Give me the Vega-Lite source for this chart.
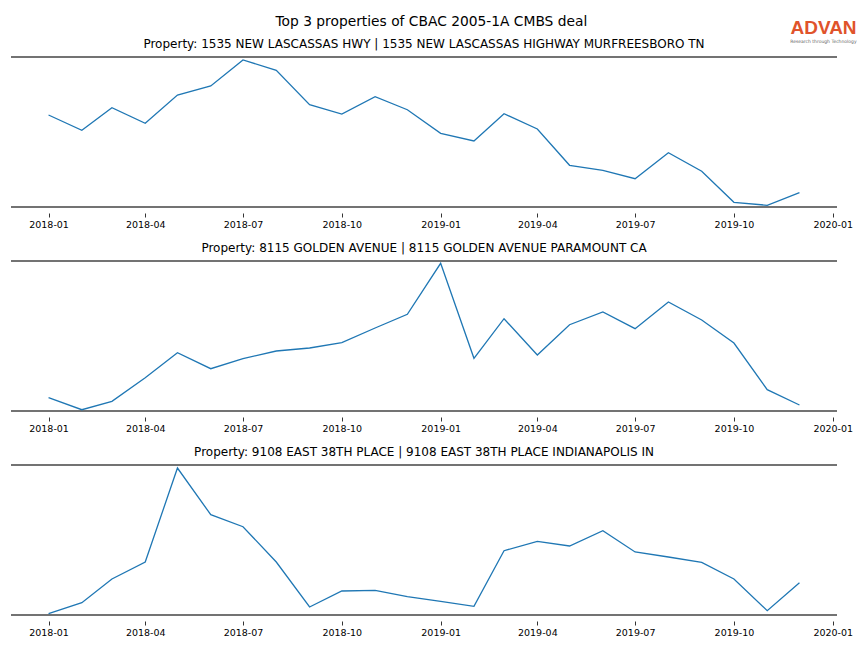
{
  "$schema": "https://vega.github.io/schema/vega-lite/v6.json",
  "padding": {"left": 10, "top": 15, "right": 4, "bottom": 4},
  "background": "white",
  "title": {"text": "ADVAN", "subtitle": "Research through Technology", "anchor": "end", "frame": "bounds", "dx": 4, "font": "Liberation Sans", "fontSize": 19, "fontWeight": "bold", "color": "#e0532b", "subtitleFont": "DejaVu Sans", "subtitleFontSize": 4.5, "subtitleColor": "#666666", "subtitlePadding": 1, "offset": -28},
  "data": {"values": [
    {"property": "P1", "date": "2018-01-01", "value": 92},
    {"property": "P1", "date": "2018-02-01", "value": 76.7},
    {"property": "P1", "date": "2018-03-01", "value": 99.3},
    {"property": "P1", "date": "2018-04-01", "value": 83.7},
    {"property": "P1", "date": "2018-05-01", "value": 112},
    {"property": "P1", "date": "2018-06-01", "value": 121},
    {"property": "P1", "date": "2018-07-01", "value": 147},
    {"property": "P1", "date": "2018-08-01", "value": 136.7},
    {"property": "P1", "date": "2018-09-01", "value": 102.3},
    {"property": "P1", "date": "2018-10-01", "value": 93},
    {"property": "P1", "date": "2018-11-01", "value": 110.3},
    {"property": "P1", "date": "2018-12-01", "value": 97.3},
    {"property": "P1", "date": "2019-01-01", "value": 73.7},
    {"property": "P1", "date": "2019-02-01", "value": 66},
    {"property": "P1", "date": "2019-03-01", "value": 93.3},
    {"property": "P1", "date": "2019-04-01", "value": 78},
    {"property": "P1", "date": "2019-05-01", "value": 41.7},
    {"property": "P1", "date": "2019-06-01", "value": 36.7},
    {"property": "P1", "date": "2019-07-01", "value": 28.3},
    {"property": "P1", "date": "2019-08-01", "value": 54.3},
    {"property": "P1", "date": "2019-09-01", "value": 35.7},
    {"property": "P1", "date": "2019-10-01", "value": 4.7},
    {"property": "P1", "date": "2019-11-01", "value": 1.7},
    {"property": "P1", "date": "2019-12-01", "value": 14.3},
    {"property": "P2", "date": "2018-01-01", "value": 13.3},
    {"property": "P2", "date": "2018-02-01", "value": 1.3},
    {"property": "P2", "date": "2018-03-01", "value": 9.7},
    {"property": "P2", "date": "2018-04-01", "value": 33.3},
    {"property": "P2", "date": "2018-05-01", "value": 58.3},
    {"property": "P2", "date": "2018-06-01", "value": 42.3},
    {"property": "P2", "date": "2018-07-01", "value": 52.3},
    {"property": "P2", "date": "2018-08-01", "value": 60},
    {"property": "P2", "date": "2018-09-01", "value": 63},
    {"property": "P2", "date": "2018-10-01", "value": 68.3},
    {"property": "P2", "date": "2018-11-01", "value": 83},
    {"property": "P2", "date": "2018-12-01", "value": 96.7},
    {"property": "P2", "date": "2019-01-01", "value": 147.7},
    {"property": "P2", "date": "2019-02-01", "value": 52.7},
    {"property": "P2", "date": "2019-03-01", "value": 92.3},
    {"property": "P2", "date": "2019-04-01", "value": 56},
    {"property": "P2", "date": "2019-05-01", "value": 86.3},
    {"property": "P2", "date": "2019-06-01", "value": 99},
    {"property": "P2", "date": "2019-07-01", "value": 82.3},
    {"property": "P2", "date": "2019-08-01", "value": 109},
    {"property": "P2", "date": "2019-09-01", "value": 91},
    {"property": "P2", "date": "2019-10-01", "value": 68},
    {"property": "P2", "date": "2019-11-01", "value": 21.3},
    {"property": "P2", "date": "2019-12-01", "value": 6},
    {"property": "P3", "date": "2018-01-01", "value": 1.3},
    {"property": "P3", "date": "2018-02-01", "value": 12.3},
    {"property": "P3", "date": "2018-03-01", "value": 36},
    {"property": "P3", "date": "2018-04-01", "value": 53},
    {"property": "P3", "date": "2018-05-01", "value": 147},
    {"property": "P3", "date": "2018-06-01", "value": 100.3},
    {"property": "P3", "date": "2018-07-01", "value": 88.3},
    {"property": "P3", "date": "2018-08-01", "value": 53},
    {"property": "P3", "date": "2018-09-01", "value": 8},
    {"property": "P3", "date": "2018-10-01", "value": 24},
    {"property": "P3", "date": "2018-11-01", "value": 24.7},
    {"property": "P3", "date": "2018-12-01", "value": 18.3},
    {"property": "P3", "date": "2019-01-01", "value": 13.6},
    {"property": "P3", "date": "2019-02-01", "value": 8.7},
    {"property": "P3", "date": "2019-03-01", "value": 64.3},
    {"property": "P3", "date": "2019-04-01", "value": 73.7},
    {"property": "P3", "date": "2019-05-01", "value": 69},
    {"property": "P3", "date": "2019-06-01", "value": 84.3},
    {"property": "P3", "date": "2019-07-01", "value": 63},
    {"property": "P3", "date": "2019-08-01", "value": 58},
    {"property": "P3", "date": "2019-09-01", "value": 52.7},
    {"property": "P3", "date": "2019-10-01", "value": 36},
    {"property": "P3", "date": "2019-11-01", "value": 4.3},
    {"property": "P3", "date": "2019-12-01", "value": 32.3}
  ]},
  "vconcat": [
    {
      "title": {"text": "Top 3 properties of CBAC 2005-1A CMBS deal", "fontSize": 13.8, "anchor": "middle", "frame": "bounds", "offset": 9},
      "spacing": 13,
      "vconcat": [
        {
          "width": 826, "height": 150,
          "title": {"text": "Property: 1535 NEW LASCASSAS HWY | 1535 NEW LASCASSAS HIGHWAY MURFREESBORO TN"},
          "transform": [{"filter": "datum.property === 'P1'"}],
          "layer": [
            {"data": {"values": [{"v": 150}, {"v": 0}]}, "mark": {"type": "rule", "color": "#444444", "strokeWidth": 1.6}, "encoding": {"y": {"field": "v", "type": "quantitative", "scale": {"domain": [0, 150], "nice": false, "zero": false}, "axis": null}}},
            {"mark": {"type": "line", "color": "#1f77b4", "strokeWidth": 1.3},
             "encoding": {
              "x": {"field": "date", "type": "temporal", "scale": {"type": "utc", "domain": [{"year": 2017, "month": 11, "date": 27, "hours": 1, "minutes": 12, "utc": true}, {"year": 2020, "month": 1, "date": 4, "hours": 22, "minutes": 48, "utc": true}]},
                "axis": {"title": null, "format": "%Y-%m", "domain": false, "offset": 6, "tickSize": 4, "tickColor": "black", "tickWidth": 0.8, "labelFontSize": 9.5, "labelFont": "DejaVu Sans", "labelColor": "black", "labelPadding": 2, "grid": false, "labelFlush": false,
                  "values": [{"year": 2018, "month": 1, "date": 1, "utc": true}, {"year": 2018, "month": 4, "date": 1, "utc": true}, {"year": 2018, "month": 7, "date": 1, "utc": true}, {"year": 2018, "month": 10, "date": 1, "utc": true}, {"year": 2019, "month": 1, "date": 1, "utc": true}, {"year": 2019, "month": 4, "date": 1, "utc": true}, {"year": 2019, "month": 7, "date": 1, "utc": true}, {"year": 2019, "month": 10, "date": 1, "utc": true}, {"year": 2020, "month": 1, "date": 1, "utc": true}]}},
              "y": {"field": "value", "type": "quantitative", "scale": {"domain": [0, 150], "nice": false, "zero": false}, "axis": null}
             }}
          ]
        },
        {
          "width": 826, "height": 150,
          "title": {"text": "Property: 8115 GOLDEN AVENUE | 8115 GOLDEN AVENUE PARAMOUNT CA"},
          "transform": [{"filter": "datum.property === 'P2'"}],
          "layer": [
            {"data": {"values": [{"v": 150}, {"v": 0}]}, "mark": {"type": "rule", "color": "#444444", "strokeWidth": 1.6}, "encoding": {"y": {"field": "v", "type": "quantitative", "scale": {"domain": [0, 150], "nice": false, "zero": false}, "axis": null}}},
            {"mark": {"type": "line", "color": "#1f77b4", "strokeWidth": 1.3},
             "encoding": {
              "x": {"field": "date", "type": "temporal", "scale": {"type": "utc", "domain": [{"year": 2017, "month": 11, "date": 27, "hours": 1, "minutes": 12, "utc": true}, {"year": 2020, "month": 1, "date": 4, "hours": 22, "minutes": 48, "utc": true}]},
                "axis": {"title": null, "format": "%Y-%m", "domain": false, "offset": 6, "tickSize": 4, "tickColor": "black", "tickWidth": 0.8, "labelFontSize": 9.5, "labelFont": "DejaVu Sans", "labelColor": "black", "labelPadding": 2, "grid": false, "labelFlush": false,
                  "values": [{"year": 2018, "month": 1, "date": 1, "utc": true}, {"year": 2018, "month": 4, "date": 1, "utc": true}, {"year": 2018, "month": 7, "date": 1, "utc": true}, {"year": 2018, "month": 10, "date": 1, "utc": true}, {"year": 2019, "month": 1, "date": 1, "utc": true}, {"year": 2019, "month": 4, "date": 1, "utc": true}, {"year": 2019, "month": 7, "date": 1, "utc": true}, {"year": 2019, "month": 10, "date": 1, "utc": true}, {"year": 2020, "month": 1, "date": 1, "utc": true}]}},
              "y": {"field": "value", "type": "quantitative", "scale": {"domain": [0, 150], "nice": false, "zero": false}, "axis": null}
             }}
          ]
        },
        {
          "width": 826, "height": 150,
          "title": {"text": "Property: 9108 EAST 38TH PLACE | 9108 EAST 38TH PLACE INDIANAPOLIS IN"},
          "transform": [{"filter": "datum.property === 'P3'"}],
          "layer": [
            {"data": {"values": [{"v": 150}, {"v": 0}]}, "mark": {"type": "rule", "color": "#444444", "strokeWidth": 1.6}, "encoding": {"y": {"field": "v", "type": "quantitative", "scale": {"domain": [0, 150], "nice": false, "zero": false}, "axis": null}}},
            {"mark": {"type": "line", "color": "#1f77b4", "strokeWidth": 1.3},
             "encoding": {
              "x": {"field": "date", "type": "temporal", "scale": {"type": "utc", "domain": [{"year": 2017, "month": 11, "date": 27, "hours": 1, "minutes": 12, "utc": true}, {"year": 2020, "month": 1, "date": 4, "hours": 22, "minutes": 48, "utc": true}]},
                "axis": {"title": null, "format": "%Y-%m", "domain": false, "offset": 6, "tickSize": 4, "tickColor": "black", "tickWidth": 0.8, "labelFontSize": 9.5, "labelFont": "DejaVu Sans", "labelColor": "black", "labelPadding": 2, "grid": false, "labelFlush": false,
                  "values": [{"year": 2018, "month": 1, "date": 1, "utc": true}, {"year": 2018, "month": 4, "date": 1, "utc": true}, {"year": 2018, "month": 7, "date": 1, "utc": true}, {"year": 2018, "month": 10, "date": 1, "utc": true}, {"year": 2019, "month": 1, "date": 1, "utc": true}, {"year": 2019, "month": 4, "date": 1, "utc": true}, {"year": 2019, "month": 7, "date": 1, "utc": true}, {"year": 2019, "month": 10, "date": 1, "utc": true}, {"year": 2020, "month": 1, "date": 1, "utc": true}]}},
              "y": {"field": "value", "type": "quantitative", "scale": {"domain": [0, 150], "nice": false, "zero": false}, "axis": null}
             }}
          ]
        }
      ]
    }
  ],
  "config": {
    "view": {"stroke": null},
    "title": {"font": "DejaVu Sans", "fontWeight": "normal", "color": "black", "fontSize": 12, "offset": 5}
  }
}
